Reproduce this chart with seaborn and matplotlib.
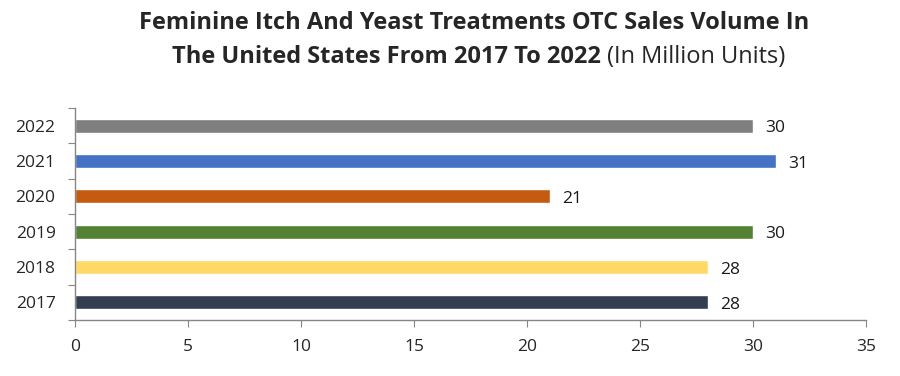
import numpy as np
import pandas as pd
import seaborn as sns
import matplotlib.pyplot as plt

years = ["2022", "2021", "2020", "2019", "2018", "2017"]
volumes = [30, 31, 21, 30, 28, 28]
bar_colors = ["#7F7F7F", "#4472C4", "#C55A11", "#548235", "#FFD966", "#333F50"]

df = pd.DataFrame({"year": years, "volume": volumes})

sns.set_style("white")
plt.rcParams["font.family"] = ["Open Sans", "DejaVu Sans"]

fig = plt.figure(figsize=(9, 3.76), dpi=100)
ax = fig.add_axes([0.0833, 0.149, 0.8789, 0.564])

sns.barplot(data=df, x="volume", y="year", hue="year", order=years,
            palette=dict(zip(years, bar_colors)), width=0.4, legend=False,
            saturation=1, ax=ax)

ax.set_xlim(0, 35)
ax.set_ylim(len(years) - 0.5, -0.5)
ax.set_xticks(np.arange(0, 36, 5))
ax.set_xlabel("")
ax.set_ylabel("")

# category labels at centres, tick marks on the boundaries
ax.set_yticks(np.arange(-0.5, len(years), 1))
ax.set_yticklabels([])
ax.set_yticks(np.arange(len(years)), minor=True)
ax.set_yticklabels(years, minor=True)
ax.tick_params(axis="y", which="major", length=5, color="#868686", left=True)
ax.tick_params(axis="y", which="minor", length=0, labelsize=12.5, pad=14)
ax.tick_params(axis="x", length=5, color="#868686", bottom=True, labelsize=12.5, pad=9)

for side in ["top", "right"]:
    ax.spines[side].set_visible(False)
for side in ["left", "bottom"]:
    ax.spines[side].set_color("#868686")
    ax.spines[side].set_linewidth(1)

for i, v in enumerate(volumes):
    ax.annotate(str(v), (v, i), xytext=(9, -2), textcoords="offset points",
                va="center", ha="left", fontsize=12.5, color="#1a1a1a")

# title, second line mixes bold and regular
fig.text(0.527, 0.94, "Feminine Itch And Yeast Treatments OTC Sales Volume In",
         ha="center", va="center", fontsize=17, fontweight="bold")
fig.canvas.draw()
r = fig.canvas.get_renderer()
bold = fig.text(0, 0.848, "The United States From 2017 To 2022 ", ha="left", va="center",
                fontsize=17, fontweight="bold")
reg = fig.text(0, 0.848, "(In Million Units)", ha="left", va="center", fontsize=17)
wb = bold.get_window_extent(r).width
wr = reg.get_window_extent(r).width
x0 = 0.532 * 900 - (wb + wr) / 2
bold.set_x(x0 / 900)
reg.set_x((x0 + wb) / 900)

fig.savefig("out.png", dpi=100)
